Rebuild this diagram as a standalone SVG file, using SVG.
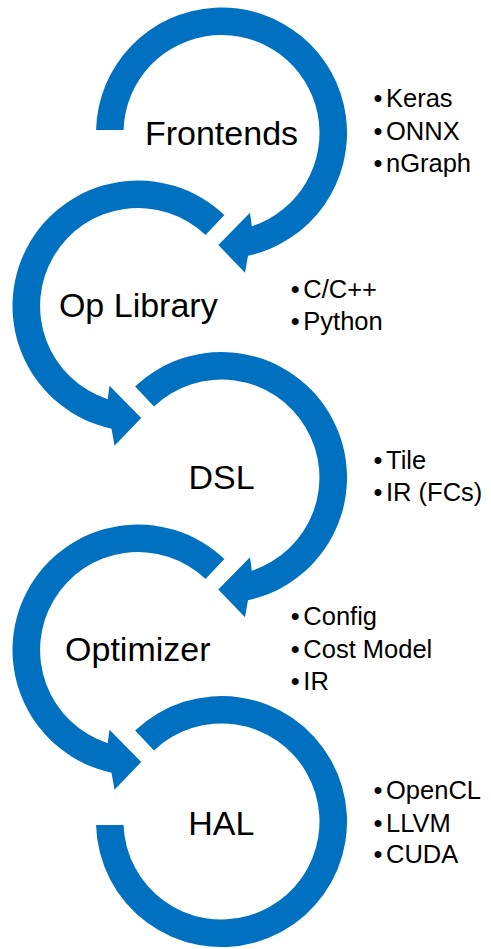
<svg xmlns="http://www.w3.org/2000/svg" xmlns:xlink="http://www.w3.org/1999/xlink" width="491" height="949" viewBox="0 0 491 949">
  <style>
    .band { fill: #0070C0; }
    .stage { font-family: "Liberation Sans", Arial, sans-serif; font-size: 34px; fill: #000; text-anchor: middle; }
    .item { font-family: "Liberation Sans", Arial, sans-serif; font-size: 25.5px; fill: #000; }
  </style>
  <defs>
    <!-- clockwise circular arrow, centred on 0,0, starting at the upper left -->
    <path id="loop" class="band" d="M -86.4 -91 A 125.5 125.5 0 1 1 26.5 122.7 L 23.5 139.7 L -3.2 112 L 28.5 79.7 L 30.3 93.2 A 98 98 0 1 0 -67.5 -71.1 Z"/>
  </defs>

  <g id="frontends">
    <path class="band" transform="translate(221.5,133)" d="M -125.46 -3 A 125.5 125.5 0 1 1 26.5 122.7 L 23.5 139.7 L -3.2 112 L 28.5 79.7 L 30.3 93.2 A 98 98 0 1 0 -97.95 -3 Z"/>
    <text class="stage" x="221.5" y="145">Frontends</text>
    <text class="item"><tspan x="373.5" y="107.3">•</tspan><tspan x="386" y="107.3">Keras</tspan></text>
    <text class="item"><tspan x="373.5" y="139.5">•</tspan><tspan x="386" y="139.5">ONNX</tspan></text>
    <text class="item"><tspan x="373.5" y="171.7">•</tspan><tspan x="386" y="171.7">nGraph</tspan></text>
  </g>

  <g id="op-library">
    <use xlink:href="#loop" href="#loop" transform="translate(138,306) scale(-1,1)"/>
    <text class="stage" x="138.3" y="317">Op Library</text>
    <text class="item"><tspan x="290.8" y="298.3">•</tspan><tspan x="303.3" y="298.3">C/C++</tspan></text>
    <text class="item"><tspan x="290.8" y="330">•</tspan><tspan x="303.3" y="330">Python</tspan></text>
  </g>

  <g id="dsl">
    <use xlink:href="#loop" href="#loop" transform="translate(221.5,477.5)"/>
    <text class="stage" x="221.5" y="489.3">DSL</text>
    <text class="item"><tspan x="373.5" y="469.3">•</tspan><tspan x="386" y="469.3">Tile</tspan></text>
    <text class="item"><tspan x="373.5" y="501">•</tspan><tspan x="386" y="501">IR (FCs)</tspan></text>
  </g>

  <g id="optimizer">
    <use xlink:href="#loop" href="#loop" transform="translate(138,650) scale(-1,1)"/>
    <text class="stage" x="137.8" y="660.5">Optimizer</text>
    <text class="item"><tspan x="290.8" y="625">•</tspan><tspan x="303.3" y="625">Config</tspan></text>
    <text class="item"><tspan x="290.8" y="657.7">•</tspan><tspan x="303.3" y="657.7">Cost Model</tspan></text>
    <text class="item"><tspan x="290.8" y="690">•</tspan><tspan x="303.3" y="690">IR</tspan></text>
  </g>

  <g id="hal">
    <path class="band" transform="translate(221.5,821.5)" d="M -86.4 -91 A 125.5 125.5 0 1 1 -125.45 3.5 L -97.94 3.5 A 98 98 0 1 0 -67.5 -71.1 Z"/>
    <text class="stage" x="221.3" y="835">HAL</text>
    <text class="item"><tspan x="373.5" y="799.3">•</tspan><tspan x="386" y="799.3">OpenCL</tspan></text>
    <text class="item"><tspan x="373.5" y="831.7">•</tspan><tspan x="386" y="831.7">LLVM</tspan></text>
    <text class="item"><tspan x="373.5" y="863.3">•</tspan><tspan x="386" y="863.3">CUDA</tspan></text>
  </g>

  <g id="connectors"/>
</svg>
